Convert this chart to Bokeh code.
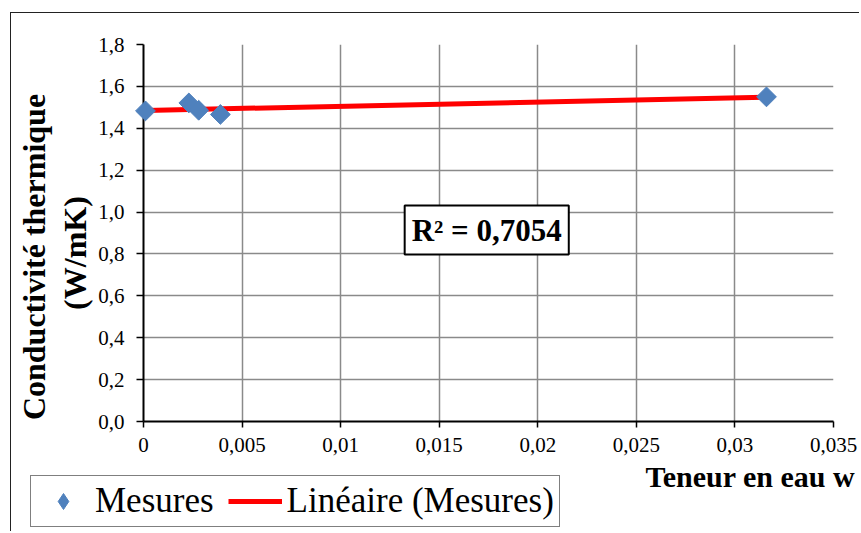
import numpy as np
from bokeh.plotting import figure
from bokeh.models import (FixedTicker, Label, Legend, LegendItem, ColumnDataSource, Title, Range1d)
from bokeh.embed import file_html
from bokeh.resources import INLINE

# ---- data ----
teneur_eau = [0.0001, 0.0023, 0.0028, 0.0039, 0.0316]
conductivite = [1.483, 1.521, 1.486, 1.466, 1.550]

x_ticks = [0, 0.005, 0.01, 0.015, 0.02, 0.025, 0.03, 0.035]
x_labels = ["0", "0,005", "0,01", "0,015", "0,02", "0,025", "0,03", "0,035"]
y_ticks = [0, 0.2, 0.4, 0.6, 0.8, 1.0, 1.2, 1.4, 1.6, 1.8]
y_labels = ["0,0", "0,2", "0,4", "0,6", "0,8", "1,0", "1,2", "1,4", "1,6", "1,8"]

r2_text = "R² = 0,7054"
y_title_1 = "Conductivité thermique"
y_title_2 = "(W/mK)"
x_title = "Teneur en eau w"
legend_labels = ["Mesures", "Linéaire (Mesures)"]

# linear trend (least squares) over data range
slope, intercept = np.polyfit(teneur_eau, conductivite, 1)
trend_x = [min(teneur_eau), max(teneur_eau)]
trend_y = [slope * v + intercept for v in trend_x]

FONT = "Liberation Serif"
BLUE = "#4F81BD"
RED = "#FF0000"
NBSP = "\u00a0"

# ---------------- main chart ----------------
p = figure(width=849, height=452, output_backend="svg", toolbar_location=None,
           x_range=(0, 0.035), y_range=(0, 1.8),
           min_border_left=132, min_border_top=31, min_border_right=27, min_border_bottom=44,
           margin=(12, 0, 0, 10))
p.styles = {"border-left": "1px solid #222", "border-top": "1px solid #222"}
p.outline_line_color = None
p.background_fill_color = "white"
p.border_fill_color = "white"

for g in (p.xgrid, p.ygrid):
    g.grid_line_color = "#8a8a8a"
    g.grid_line_width = 1.5
p.xaxis.ticker = FixedTicker(ticks=x_ticks)
p.yaxis.ticker = FixedTicker(ticks=y_ticks)
p.xgrid.ticker = FixedTicker(ticks=x_ticks)
p.ygrid.ticker = FixedTicker(ticks=y_ticks)
p.xaxis.major_label_overrides = dict(zip(x_ticks, x_labels))
p.yaxis.major_label_overrides = dict(zip(y_ticks, y_labels))

for ax in (p.xaxis, p.yaxis):
    ax.axis_line_color = "black"
    ax.axis_line_width = 2
    ax.major_tick_line_color = "black"
    ax.major_tick_line_width = 1.5
    ax.major_tick_in = 0
    ax.minor_tick_line_color = None
    ax.major_label_text_font = FONT
    ax.major_label_text_font_size = "21px"
    ax.major_label_text_color = "black"
p.yaxis.major_tick_out = 7
p.xaxis.major_tick_out = 6
p.yaxis.major_label_standoff = 12
p.xaxis.major_label_standoff = 10

p.line(trend_x, trend_y, line_color=RED, line_width=5)
src = ColumnDataSource(dict(x=teneur_eau, y=conductivite))
p.scatter("x", "y", source=src, marker="square", angle=np.pi / 4, size=14,
          fill_color=BLUE, line_color=BLUE, level="overlay")

# R² box with shadow
shadow = Label(x=0.01741, y=0.914, text=r2_text, text_align="center", text_baseline="middle",
               text_font=FONT, text_font_style="bold", text_font_size="31px", text_alpha=0,
               background_fill_color="#7f7f7f", background_fill_alpha=0.5,
               x_offset=4, y_offset=-4, padding=7)
p.add_layout(shadow)
r2 = Label(x=0.01741, y=0.914, text=r2_text, text_align="center", text_baseline="middle",
           text_font=FONT, text_font_style="bold", text_font_size="31px", text_color="black",
           background_fill_color="white", border_line_color="black", border_line_width=2,
           padding=7)
p.add_layout(r2)

# y axis title (two lines) as side-panel titles; trailing no-break spaces move the
# centred text slightly downwards, as in the reference
p.add_layout(Title(text=y_title_2 + NBSP * 5, align="center", standoff=6,
                   text_font=FONT, text_font_style="bold", text_font_size="32px",
                   text_color="black"), "left")
p.add_layout(Title(text=y_title_1 + NBSP * 6, align="center", standoff=0,
                   text_font=FONT, text_font_style="bold", text_font_size="32px",
                   text_color="black"), "left")

# ---------------- bottom strip: x title + legend ----------------
W2, H2 = 849, 67
q = figure(width=W2, height=H2, output_backend="svg", toolbar_location=None,
           x_range=Range1d(0, W2), y_range=Range1d(0, H2),
           x_axis_location=None, y_axis_location=None,
           min_border=0, margin=(0, 0, 0, 10))
q.styles = {"border-left": "1px solid #222"}
q.outline_line_color = None
q.xgrid.visible = False
q.ygrid.visible = False
q.background_fill_color = "white"
q.border_fill_color = "white"

q.add_layout(Label(x=634, y=55, text=x_title, text_align="left", text_baseline="alphabetic",
                   text_font=FONT, text_font_style="bold", text_font_size="30px",
                   text_color="black"))

proxy = ColumnDataSource(dict(x=[float("nan")], y=[float("nan")]))
leg_pts = q.scatter("x", "y", source=proxy, marker="diamond", size=14,
                    fill_color=BLUE, line_color=BLUE)
leg_line = q.line("x", "y", source=proxy, line_color=RED, line_width=5)

legend = Legend(items=[LegendItem(label=legend_labels[0], renderers=[leg_pts]),
                       LegendItem(label=legend_labels[1], renderers=[leg_line])],
                orientation="horizontal", location=(19, 4),
                label_text_font=FONT, label_text_font_size="35px", label_text_color="black",
                glyph_width=54, glyph_height=40, label_standoff=5, spacing=14,
                padding=5, margin=0, border_line_color="black", border_line_width=1.5,
                background_fill_alpha=1)
q.add_layout(legend)

# two separate roots (no frame alignment between them)
open("out.html", "w").write(file_html([p, q], INLINE))
